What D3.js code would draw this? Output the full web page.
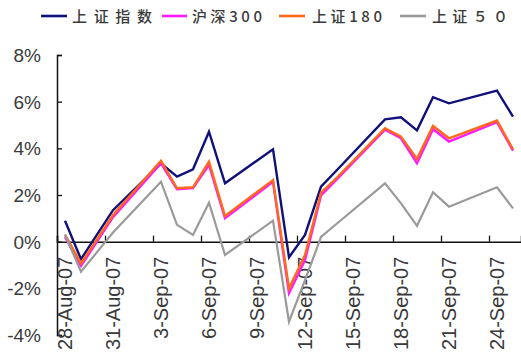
<!DOCTYPE html>
<html>
<head>
<meta charset="utf-8">
<script src="https://cdn.jsdelivr.net/npm/d3@7"></script>
<style>
  html, body { margin: 0; padding: 0; background: #fff; }
  svg { display: block; }
</style>
</head>
<body>
<svg id="chart" width="521" height="358"></svg>
<script>
// Trading days (2007) and cumulative returns (%) of four index series
const dates = [
  "2007-08-28", "2007-08-29", "2007-08-30", "2007-08-31",
  "2007-09-03", "2007-09-04", "2007-09-05", "2007-09-06", "2007-09-07",
  "2007-09-10", "2007-09-11", "2007-09-12", "2007-09-13", "2007-09-14",
  "2007-09-17", "2007-09-18", "2007-09-19", "2007-09-20", "2007-09-21",
  "2007-09-24", "2007-09-25"
];
const shIndex = [0.90, -0.75, 0.30, 1.35, 3.36, 2.79, 3.10, 4.71, 2.50, 3.96, -0.67, 0.29, 2.36, 3.07, 5.24, 5.33, 4.77, 6.19, 5.93, 6.47, 5.36];
const hs300   = [0.20, -1.04, 0.00, 1.05, 3.36, 2.25, 2.30, 3.29, 1.00, 2.57, -2.21, -0.79, 1.98, 2.68, 4.80, 4.43, 3.36, 4.82, 4.29, 5.12, 3.90];
const sh180   = [0.30, -0.93, 0.10, 1.14, 3.47, 2.29, 2.33, 3.43, 1.10, 2.64, -2.00, -0.57, 2.10, 2.75, 4.86, 4.50, 3.55, 4.96, 4.43, 5.19, 3.96];
const sh50    = [0.30, -1.29, -0.45, 0.39, 2.57, 0.72, 0.29, 1.67, -0.57, 0.90, -3.43, -1.65, 0.20, 0.78, 2.50, 1.64, 0.68, 2.12, 1.50, 2.33, 1.43];

const seriesNames  = ["上证指数", "沪深300", "上证180", "上证５０"];
const seriesColors = ["#10107a", "#ff1aff", "#ff6a1a", "#9a9a9a"];
const yTicks = [-4, -2, 0, 2, 4, 6, 8];
const tickDates = ["2007-08-28", "2007-08-31", "2007-09-03", "2007-09-06", "2007-09-09",
                   "2007-09-12", "2007-09-15", "2007-09-18", "2007-09-21", "2007-09-24"];

const parse = d3.utcParse("%Y-%m-%d");
const fmt = d3.utcFormat("%-d-%b-%y");
const DAY = 864e5;

const svg = d3.select("#chart");

// Calendar-day slots: each day is one slot; points sit at slot centres
const x = d3.scaleUtc()
  .domain([parse("2007-08-28"), new Date(+parse("2007-09-25") + DAY)])
  .range([57, 521]);
const y = d3.scaleLinear().domain([-4, 8]).range([335, 55]);
const mid = d => new Date(+d + DAY / 2);

const series = [shIndex, hs300, sh180, sh50];

// Y axis (ticks point inward)
const yAxis = svg.append("g")
  .attr("transform", `translate(${x.range()[0]},0)`)
  .call(d3.axisRight(y).tickValues(yTicks).tickSize(5).tickFormat(d => d + "%"));
yAxis.select(".domain").attr("stroke", "#111").attr("stroke-width", 1.5);
yAxis.selectAll(".tick line").attr("stroke", "#111").attr("stroke-width", 1.3);
yAxis.selectAll(".tick text")
  .attr("x", -16).attr("text-anchor", "end").attr("dy", "0.35em")
  .attr("fill", "#3a3a3a")
  .style("font-family", "'Liberation Sans', Arial, sans-serif")
  .style("font-size", "19px");

// X axis along the zero line, ticks every third day pointing up
const tickD = tickDates.map(parse);
const xAxis = svg.append("g")
  .attr("transform", `translate(0,${y(0)})`)
  .call(d3.axisTop(x).tickValues(tickD).tickSize(6).tickFormat(""));
xAxis.select(".domain").attr("stroke", "#111").attr("stroke-width", 1.5);
xAxis.selectAll(".tick line").attr("stroke", "#111").attr("stroke-width", 1.3);

// Date labels, rotated, centred on each labelled day
svg.append("g").selectAll("text")
  .data(tickD)
  .join("text")
  .attr("transform", d => `translate(${x(mid(d))},${y(0) + 15}) rotate(-90)`)
  .attr("text-anchor", "end")
  .attr("dy", "0.35em")
  .attr("fill", "#3a3a3a")
  .style("font-family", "'Liberation Sans', Arial, sans-serif")
  .style("font-size", "20px")
  .text(d => fmt(d));

// Series lines
const line = d3.line()
  .x((v, i) => x(mid(parse(dates[i]))))
  .y(v => y(v));

svg.append("g").selectAll("path")
  .data(series)
  .join("path")
  .attr("d", d => line(d))
  .attr("fill", "none")
  .attr("stroke", (d, i) => seriesColors[i])
  .attr("stroke-width", (d, i) => i === 3 ? 2.2 : 2.4)
  .attr("stroke-linejoin", "miter");

// Legend
const legendItems = [
  { sx: 41, ex: 67, tx: 72, tw: 80 },
  { sx: 162, ex: 187, tx: 192, tw: 70 },
  { sx: 279, ex: 305, tx: 312, tw: 70 },
  { sx: 400, ex: 426, tx: 432, tw: 76 }
];
const lg = svg.append("g");
legendItems.forEach((p, i) => {
  lg.append("line")
    .attr("x1", p.sx).attr("x2", p.ex)
    .attr("y1", 16).attr("y2", 16)
    .attr("stroke", seriesColors[i]).attr("stroke-width", 2.6);
  lg.append("text")
    .attr("x", p.tx).attr("y", 22)
    .attr("textLength", p.tw).attr("lengthAdjust", "spacing")
    .attr("fill", "#3a3a3a")
    .style("font-family", "'Noto Sans CJK SC', sans-serif")
    .style("font-size", "15px")
    .style("font-weight", "500")
    .text(seriesNames[i]);
});
</script>
</body>
</html>
